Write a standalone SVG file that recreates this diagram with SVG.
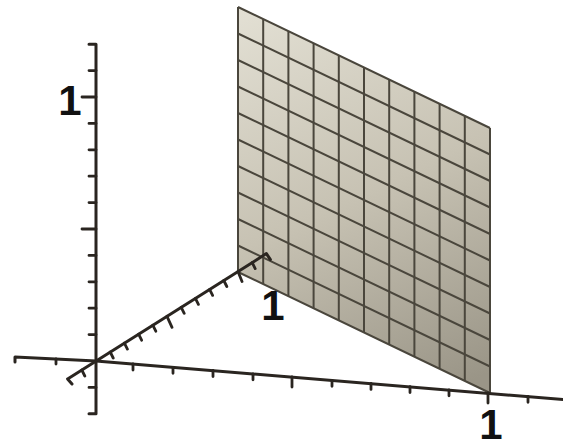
<svg xmlns="http://www.w3.org/2000/svg" width="563" height="448" viewBox="0 0 563 448">
<defs>
<linearGradient id="shade" gradientUnits="userSpaceOnUse" x1="250" y1="10" x2="430" y2="400">
<stop offset="0" stop-color="#e2dfd3"/>
<stop offset="0.5" stop-color="#c7c2b3"/>
<stop offset="1" stop-color="#9a9587"/>
</linearGradient>
<style>
.grid{stroke:#4a463c;stroke-width:2;fill:none}
.axis{stroke:#2a2520;stroke-width:3;fill:none;stroke-linecap:round;stroke-linejoin:round}
.tick{stroke:#2a2520;stroke-width:2.8;fill:none;stroke-linecap:round}
.lbl{font-family:"Liberation Sans",Arial,sans-serif;font-size:42px;font-weight:bold;fill:#111;text-anchor:middle}
</style>
</defs>
<rect width="563" height="448" fill="#ffffff"/>
<g id="plane">
<polygon points="238,7 490,128 490,393 238,272" fill="url(#shade)"/>
<path class="grid" d="M238,7V272 M263.2,19.1V284.1 M288.4,31.2V296.2 M313.6,43.3V308.3 M338.8,55.4V320.4 M364,67.5V332.5 M389.2,79.6V344.6 M414.4,91.7V356.7 M439.6,103.8V368.8 M464.8,115.9V380.9 M490,128V393"/>
<path class="grid" d="M238,272L490,393 M238,245.5L490,366.5 M238,219L490,340 M238,192.5L490,313.5 M238,166L490,287 M238,139.5L490,260.5 M238,113L490,234 M238,86.5L490,207.5 M238,60L490,181 M238,33.5L490,154.5 M238,7L490,128"/>
</g>
<g id="connectors">
<g id="z-axis">
<path class="axis" d="M89,44.2H96V413.8H89"/>
<path class="tick" d="M96,387.4h-7 M96,334.6h-7 M96,308.2h-7 M96,281.8h-7 M96,255.4h-7 M96,229h-14 M96,202.6h-7 M96,176.2h-7 M96,149.8h-7 M96,123.4h-7 M96,97h-14 M96,70.6h-7"/>
</g>
<g id="x-axis">
<path class="axis" d="M15,362V357L96,361L569,400"/>
<path class="tick" d="M56,359v5 M133,364v6 M173,367.3v6 M213,370.5v6 M253,373.8v6 M292,377v10 M332,380.3v6 M371,383.4v6 M410,386.6v6 M449,389.8v6 M488,393v10 M528,396.3v6"/>
</g>
<g id="y-axis">
<path class="axis" d="M72,384L67.6,378.9L266.4,253.6L270.4,259.6"/>
<path class="tick" d="M81.8,370l3,6 M110.2,352l3,6 M124.4,343.1l3,6 M138.6,334.2l3,6 M152.8,325.2l3,6 M167,316.3l5,11 M181.2,307.3l3,6 M195.4,298.4l3,6 M209.6,289.4l3,6 M223.8,280.5l3,6 M238,271.5l4,10 M252.2,262.6l3,6"/>
</g>
</g>
<g id="labels">
<text class="lbl" x="70" y="115">1</text>
<text class="lbl" x="273" y="320">1</text>
<text class="lbl" x="491" y="439">1</text>
</g>
</svg>
